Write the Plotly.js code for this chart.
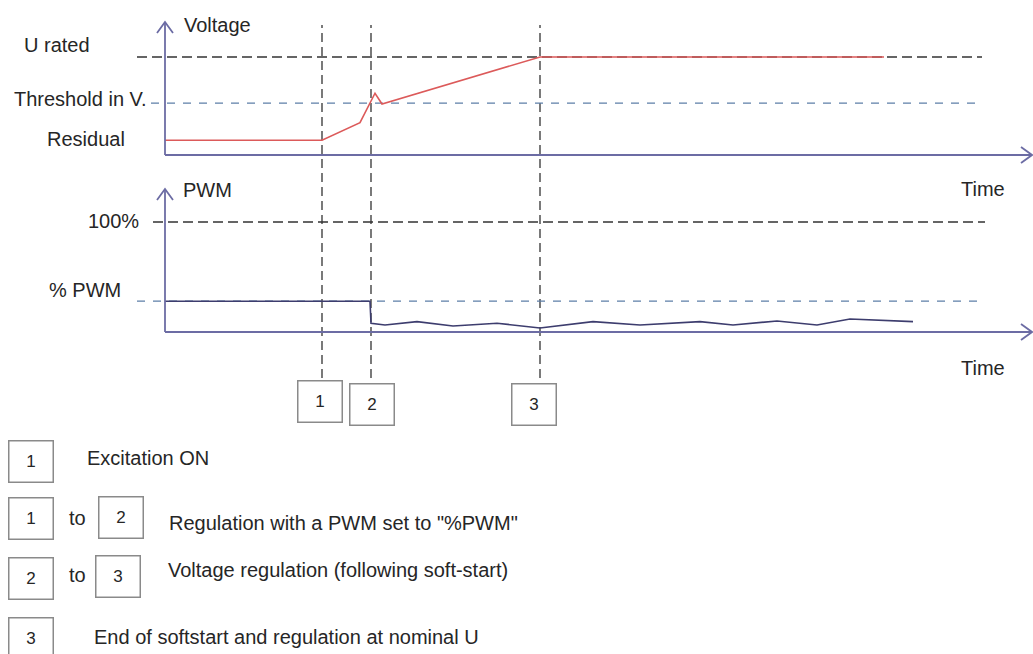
<!DOCTYPE html>
<html><head><meta charset="utf-8">
<script src="https://cdn.plot.ly/plotly-3.0.1.min.js"></script>
<style>html,body{margin:0;padding:0;background:#fff}#chart{width:1033px;height:654px}</style>
</head><body><div id="chart"></div>
<script>
// ---- data (time in arbitrary units, voltage in % of U rated, PWM in % duty) ----
const timeVoltage = [0, 15.7, 19.5, 20.5, 21.0, 21.7, 37.5, 71.9];
const voltage     = [15, 15, 33, 53, 63, 52, 100, 100];

const timePwm = [0, 20.5, 20.6, 22.0, 25.2, 28.8, 33.2, 37.5, 42.8, 47.5, 53.5, 56.8, 61.2, 65.2, 68.5, 74.8];
const pwm     = [28, 28, 8, 6.4, 9.4, 5.5, 8, 3.6, 9.4, 6.4, 9.4, 6.4, 10, 6.4, 11.8, 9.4];

const eventTimes  = [15.7, 20.6, 37.5];
const eventLabels = ['1', '2', '3'];

const voltageLevelNames  = ['U rated', 'Threshold in V.', 'Residual'];
const voltageLevelValues = [100, 53, 15];
const pwmLevelNames  = ['100%', '% PWM'];
const pwmLevelValues = [100, 28];

const legendTexts = ['Excitation ON', 'Regulation with a PWM set to "%PWM"',
  'Voltage regulation (following soft-start)', 'End of softstart and regulation at nominal U'];

// ---- geometry helpers ----
const W = 1033, H = 654;
const px = x => x / W;
const py = y => 1 - y / H;
const FONT = 'Liberation Sans, Arial, sans-serif';
const TXT = '#262626';
const AXC = '#6c6ca4';
const timeAxisEnd = 86.7, refEnd = 81.7;

const traces = [
  {x: timeVoltage, y: voltage, xaxis: 'x', yaxis: 'y', mode: 'lines',
   line: {color: '#dc5a5a', width: 1.6}, hoverinfo: 'skip'},
  {x: timePwm, y: pwm, xaxis: 'x', yaxis: 'y2', mode: 'lines',
   line: {color: '#3d3d6e', width: 1.6, shape: 'linear'}, hoverinfo: 'skip'}
];

const shapes = [];
function hline(yref, val, x0, x1, color, dash) {
  shapes.push({type: 'line', xref: 'x', yref: yref, x0: x0, x1: x1, y0: val, y1: val,
    line: {color: color, width: 1.3, dash: dash}, layer: 'below'});
}
hline('y', voltageLevelValues[0], -2.8, refEnd, '#333333', '10px,5px');
hline('y', voltageLevelValues[1], -1.4, refEnd, '#5d7fa8', '8px,8px');
hline('y2', pwmLevelValues[0], -1.2, 82, '#333333', '10px,5px');
hline('y2', pwmLevelValues[1], -2.8, 81.5, '#5d7fa8', '8px,8px');

// event vertical lines
eventTimes.forEach(t => shapes.push({type: 'line', xref: 'x', yref: 'paper', x0: t, x1: t,
  y0: py(378), y1: py(25), line: {color: '#333333', width: 1.3, dash: '9px,5px'}, layer: 'below'}));

// axes with arrows
function axes(yref, top) {
  shapes.push({type: 'line', xref: 'x', yref: yref, x0: 0, x1: 0, y0: 0, y1: top, line: {color: AXC, width: 1.8}});
  shapes.push({type: 'line', xref: 'x', yref: yref, x0: 0, x1: timeAxisEnd, y0: 0, y1: 0, line: {color: AXC, width: 1.8}});
  shapes.push({type: 'path', xref: 'x', yref: yref, xsizemode: 'pixel', ysizemode: 'pixel',
    xanchor: 0, yanchor: top, path: 'M -8 -11 L 0 0 L 8 -11', line: {color: AXC, width: 1.8}});
  shapes.push({type: 'path', xref: 'x', yref: yref, xsizemode: 'pixel', ysizemode: 'pixel',
    xanchor: timeAxisEnd, yanchor: 0, path: 'M -11 8 L 0 0 L -11 -8', line: {color: AXC, width: 1.8}});
}
axes('y', 135.7);
axes('y2', 130);

const annotations = [];
function label(text, left, cy, size) {
  annotations.push({text: text, xref: 'paper', yref: 'paper', x: px(left), y: py(cy),
    xanchor: 'left', yanchor: 'middle', showarrow: false,
    font: {family: FONT, size: size || 20, color: TXT}});
}
label('Voltage', 182, 25);
label(voltageLevelNames[0], 22, 45);
label(voltageLevelNames[1], 12, 99);
label(voltageLevelNames[2], 45, 139);
label('PWM', 181, 190);
label(pwmLevelNames[0], 86, 221);
label(pwmLevelNames[1], 47, 290);
label('Time', 959, 189);
label('Time', 959, 368);

function box(text, opts) {
  annotations.push(Object.assign({text: text, showarrow: false, width: 41, height: 38,
    bordercolor: '#8a8a8a', borderwidth: 1.5, borderpad: 1, bgcolor: 'rgba(0,0,0,0)',
    xanchor: 'center', yanchor: 'middle',
    font: {family: FONT, size: 17, color: TXT}}, opts));
}
// boxes below event lines
const evShift = [-2.5, 1, -6];
const evY = [401, 404, 404];
eventTimes.forEach((t, i) => box(eventLabels[i], {xref: 'x', yref: 'paper', x: t, xshift: evShift[i], y: py(evY[i])}));

// legend rows
box(eventLabels[0], {xref: 'paper', yref: 'paper', x: px(30.5), y: py(461)});
label(legendTexts[0], 85, 458);
box(eventLabels[0], {xref: 'paper', yref: 'paper', x: px(30.5), y: py(518)});
label('to', 67, 518);
box(eventLabels[1], {xref: 'paper', yref: 'paper', x: px(120.5), y: py(517)});
label(legendTexts[1], 167, 523);
box(eventLabels[1], {xref: 'paper', yref: 'paper', x: px(30.5), y: py(578)});
label('to', 67, 575);
box(eventLabels[2], {xref: 'paper', yref: 'paper', x: px(117.5), y: py(576)});
label(legendTexts[2], 166, 570);
box(eventLabels[2], {xref: 'paper', yref: 'paper', x: px(30.5), y: py(638)});
label(legendTexts[3], 92, 637);

const layout = {
  width: W, height: H, margin: {l: 0, r: 0, t: 0, b: 0},
  paper_bgcolor: '#ffffff', plot_bgcolor: 'rgba(0,0,0,0)', showlegend: false, hovermode: false,
  xaxis: {range: [-16.5, 86.8], domain: [0, 1], visible: false, fixedrange: true, anchor: 'y'},
  yaxis: {range: [(155 - 170) / 0.98, 155 / 0.98], domain: [py(170), 1], visible: false, fixedrange: true, anchor: 'x'},
  yaxis2: {range: [(332 - 345) / 1.1, (332 - 172) / 1.1], domain: [py(345), py(172)], visible: false, fixedrange: true, anchor: 'x'},
  shapes: shapes, annotations: annotations
};
Plotly.newPlot('chart', traces, layout, {displayModeBar: false, staticPlot: true});
</script></body></html>
